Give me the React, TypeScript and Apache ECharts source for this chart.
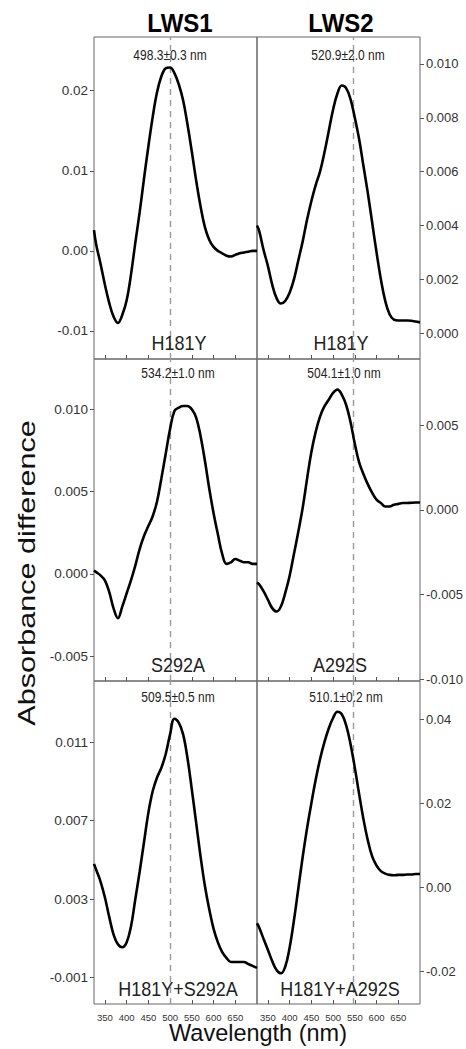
import React, { useEffect, useRef } from "react";
import * as echarts from "echarts";

// ---------- data ----------
const wavelengths = [325, 330, 340, 350, 360, 370, 380, 390, 400, 410, 420, 430, 440, 450, 460, 470, 480, 490, 500, 510, 520, 530, 540, 550, 560, 570, 580, 590, 600, 610, 620, 630, 640, 650, 660, 670, 680, 690, 700];

const lws1H181Y = [0.0026, 0.0008, -0.0016, -0.0042, -0.0065, -0.0082, -0.0090, -0.0080, -0.0062, -0.0030, 0.0010, 0.0048, 0.0090, 0.0130, 0.0167, 0.0198, 0.0218, 0.0228, 0.0229, 0.0222, 0.0208, 0.0188, 0.0158, 0.0124, 0.0088, 0.0056, 0.0030, 0.0014, 0.0005, 0.0000, -0.0003, -0.0006, -0.0007, -0.0005, -0.0003, -0.0002, -0.0001, 0.0000, 0.0000];
const lws2H181Y = [0.0040, 0.0038, 0.0031, 0.0025, 0.0018, 0.0013, 0.0011, 0.0012, 0.0015, 0.0020, 0.0027, 0.0034, 0.0042, 0.0049, 0.0055, 0.0060, 0.0067, 0.0075, 0.0083, 0.0089, 0.0092, 0.0091, 0.0087, 0.0080, 0.0072, 0.0062, 0.0052, 0.0041, 0.0030, 0.0020, 0.0012, 0.0007, 0.0005, 0.00047, 0.00047, 0.00047, 0.00046, 0.00043, 0.0004];
const lws1S292A = [0.0002, 0.0001, -0.0001, -0.0004, -0.0011, -0.0021, -0.0027, -0.0020, -0.0012, -0.0004, 0.0005, 0.0015, 0.0023, 0.0029, 0.0035, 0.0044, 0.0058, 0.0073, 0.0088, 0.0099, 0.0101, 0.0102, 0.0102, 0.0100, 0.0095, 0.0084, 0.0069, 0.0052, 0.0037, 0.0024, 0.0012, 0.0006, 0.0007, 0.0009, 0.0008, 0.0007, 0.0007, 0.0006, 0.0006];
const lws2A292S = [-0.0043, -0.0044, -0.0048, -0.0053, -0.0058, -0.0060, -0.0057, -0.0049, -0.0039, -0.0026, -0.0013, 0.0001, 0.0018, 0.0034, 0.0046, 0.0055, 0.0061, 0.0065, 0.0069, 0.0071, 0.0068, 0.0062, 0.0052, 0.0039, 0.0028, 0.0021, 0.0015, 0.0010, 0.0006, 0.0004, 0.0002, 0.0002, 0.0003, 0.00035, 0.0004, 0.0004, 0.00042, 0.00043, 0.00043];
const lws1H181YS292A = [0.0048, 0.0045, 0.0039, 0.0031, 0.0021, 0.0012, 0.0007, 0.00055, 0.0008, 0.0016, 0.0030, 0.0044, 0.0059, 0.0074, 0.0085, 0.0092, 0.0097, 0.0104, 0.0114, 0.0122, 0.0120, 0.0114, 0.0102, 0.0086, 0.0069, 0.0052, 0.0037, 0.0025, 0.0015, 0.0008, 0.0003, 0.0000, -0.0002, -0.0002, -0.0002, -0.0002, -0.0003, -0.0004, -0.0005];
const lws2H181YA292S = [-0.0085, -0.0095, -0.0122, -0.0148, -0.0175, -0.0196, -0.0204, -0.0188, -0.0143, -0.0078, -0.0003, 0.0072, 0.0140, 0.0200, 0.0256, 0.0305, 0.0345, 0.0378, 0.0403, 0.0418, 0.0412, 0.0386, 0.0342, 0.0285, 0.0222, 0.0162, 0.0112, 0.0074, 0.0052, 0.0039, 0.0033, 0.0030, 0.0029, 0.0030, 0.0030, 0.0031, 0.0031, 0.0032, 0.0032];

const panelValues = [lws1H181Y, lws2H181Y, lws1S292A, lws2A292S, lws1H181YS292A, lws2H181YA292S];

const columnTitles = ["LWS1", "LWS2"];
const peakLabels = ["498.3±0.3 nm", "520.9±2.0 nm", "534.2±1.0 nm", "504.1±1.0 nm", "509.5±0.5 nm", "510.1±0.2 nm"];
const mutantLabels = ["H181Y", "H181Y", "S292A", "A292S", "H181Y+S292A", "H181Y+A292S"];
const referenceWavelengths = [500, 546]; // per column
const xTicks = [350, 400, 450, 500, 550, 600, 650];
const yTicks = [
  [-0.01, 0, 0.01, 0.02],
  [0, 0.002, 0.004, 0.006, 0.008, 0.01],
  [-0.005, 0, 0.005, 0.01],
  [-0.01, -0.005, 0, 0.005],
  [-0.001, 0.003, 0.007, 0.011],
  [-0.02, 0, 0.02, 0.04],
];
const yDecimals = [2, 3, 3, 3, 3, 2];
const yRanges = [
  [-0.0135, 0.0267],
  [-0.00096, 0.011],
  [-0.00652, 0.01306],
  [-0.0101, 0.0089],
  [-0.00234, 0.01412],
  [-0.0277, 0.0491],
];
const xRange = [325, 700];
const xTitle = "Wavelength (nm)";
const yTitle = "Absorbance difference";

// ---------- layout ----------
const W = 466;
const H = 1049;
const colLeft = [94, 257];
const colWidth = 163;
const rowTop = [37, 359, 681];
const rowHeight = [322, 322, 323];
const FONT = "'Liberation Sans', Arial, Helvetica, sans-serif";
const peakPos = [[170, 55], [348, 55], [178, 373.5], [344, 373.5], [178, 697.5], [346, 697.5]];
const mutantPos = [[179, 343], [341, 343], [178, 665], [340, 665], [178, 989], [340, 988.5]];
const titlePos = [[180, 23], [341, 23]];

export default function App() {
  const ref = useRef<HTMLDivElement>(null);
  useEffect(() => {
    if (!ref.current) return;
    const chart = echarts.init(ref.current, undefined, { renderer: "svg" });
    const grids: any[] = [];
    const xAxes: any[] = [];
    const yAxes: any[] = [];
    const series: any[] = [];
    const graphics: any[] = [];
    for (let i = 0; i < 6; i++) {
      const row = Math.floor(i / 2);
      const col = i % 2;
      grids.push({
        left: colLeft[col],
        top: rowTop[row],
        width: colWidth,
        height: rowHeight[row],
        show: true,
        borderColor: "#666",
        borderWidth: 1,
        backgroundColor: "transparent",
      });
      xAxes.push({
        type: "value",
        gridIndex: i,
        min: xRange[0],
        max: xRange[1],
        axisLine: { show: false, onZero: false },
        splitLine: { show: false },
        axisTick: {
          show: true,
          inside: true,
          length: 4,
          customValues: xTicks,
          lineStyle: { color: "#555", width: 1 },
        },
        axisLabel: {
          show: row === 2,
          customValues: xTicks,
          fontSize: 9.5,
          fontFamily: FONT,
          color: "#333",
          margin: 8,
        },
      });
      const dec = yDecimals[i];
      yAxes.push({
        type: "value",
        gridIndex: i,
        position: col === 0 ? "left" : "right",
        min: yRanges[i][0],
        max: yRanges[i][1],
        axisLine: { show: false, onZero: false },
        splitLine: { show: false },
        axisTick: {
          show: true,
          inside: false,
          length: 4,
          customValues: yTicks[i],
          lineStyle: { color: "#555", width: 1 },
        },
        axisLabel: {
          customValues: yTicks[i],
          formatter: (v: number) => v.toFixed(dec),
          fontSize: col === 0 ? 13.5 : 13,
          fontFamily: FONT,
          color: "#333",
          margin: 6,
        },
      });
      series.push({
        type: "line",
        xAxisIndex: i,
        yAxisIndex: i,
        data: wavelengths.map((w, k) => [w, panelValues[i][k]]),
        showSymbol: false,
        smooth: 0.4,
        lineStyle: { color: "#000", width: 2.6 },
        z: 3,
        markLine: {
          silent: true,
          symbol: ["none", "none"],
          label: { show: false },
          lineStyle: { color: "#9a9a9a", type: [6, 5], width: 1.4 },
          data: [{ xAxis: referenceWavelengths[col] }],
          z: 2,
        },
      });
      graphics.push({
        type: "text",
        x: peakPos[i][0],
        y: peakPos[i][1],
        scaleY: 1.2,
        z: 10,
        style: {
          text: peakLabels[i],
          fontSize: 12,
          fontFamily: FONT,
          fill: "#222",
          align: "center",
          verticalAlign: "middle",
        },
      });
      graphics.push({
        type: "text",
        x: mutantPos[i][0],
        y: mutantPos[i][1],
        scaleY: 1.15,
        z: 10,
        style: {
          text: mutantLabels[i],
          fontSize: 18,
          fontFamily: FONT,
          fill: "#222",
          align: "center",
          verticalAlign: "middle",
        },
      });
    }
    for (let c = 0; c < 2; c++) {
      graphics.push({
        type: "text",
        x: titlePos[c][0],
        y: titlePos[c][1],
        scaleY: 1.05,
        style: {
          text: columnTitles[c],
          fontSize: 24,
          fontWeight: "bold",
          fontFamily: FONT,
          fill: "#000",
          align: "center",
          verticalAlign: "middle",
        },
      });
    }
    graphics.push({
      type: "text",
      x: 258,
      y: 1032,
      scaleY: 1.05,
      style: {
        text: xTitle,
        fontSize: 23.5,
        fontFamily: FONT,
        fill: "#111",
        align: "center",
        verticalAlign: "middle",
      },
    });
    graphics.push({
      type: "text",
      x: 27,
      y: 573,
      rotation: Math.PI / 2,
      scaleX: 1.33,
      style: {
        text: yTitle,
        fontSize: 23,
        fontFamily: FONT,
        fill: "#111",
        align: "center",
        verticalAlign: "middle",
      },
    });

    chart.setOption({
      animation: false,
      backgroundColor: "#fff",
      grid: grids,
      xAxis: xAxes,
      yAxis: yAxes,
      series,
      graphic: graphics,
    });
    return () => chart.dispose();
  }, []);
  return (
    <div
      ref={ref}
      style={{ position: "absolute", left: 0, top: 0, width: W, height: H }}
    />
  );
}
